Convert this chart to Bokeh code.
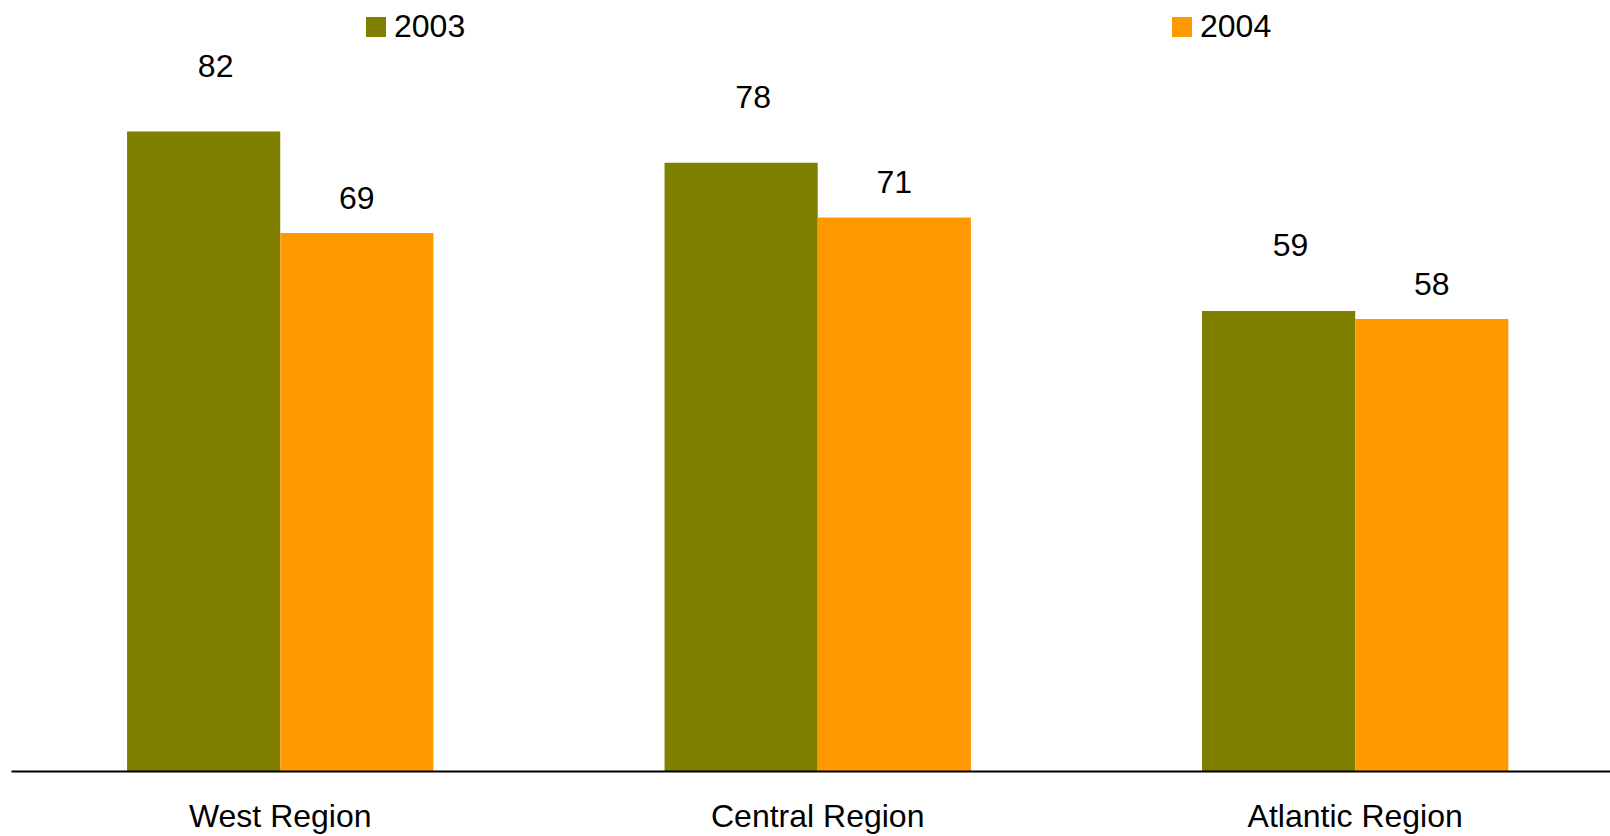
from bokeh.plotting import figure
from bokeh.models import Range1d, FixedTicker, ColumnDataSource, Legend, LegendItem
from bokeh.core.properties import value
from bokeh.embed import file_html
from bokeh.resources import INLINE

regions = ["West Region", "Central Region", "Atlantic Region"]
years = ["2003", "2004"]
values_2003 = [82, 78, 59]
values_2004 = [69, 71, 58]

FONT = "Liberation Sans"
colors = {"2003": "#808000", "2004": "#FF9900"}

p = figure(width=1610, height=836, output_backend="svg", toolbar_location=None,
           x_range=Range1d(-0.5, 2.475), y_range=Range1d(0, 98.8),
           min_border_left=11, min_border_right=0, min_border_top=0, min_border_bottom=65)

xs = list(range(len(regions)))
bw = 0.285
src03 = ColumnDataSource(dict(x=[i - bw / 2 for i in xs], top=values_2003,
                              lab=[str(v) for v in values_2003]))
src04 = ColumnDataSource(dict(x=[i + bw / 2 for i in xs], top=values_2004,
                              lab=[str(v) for v in values_2004]))

r03 = p.vbar(x="x", top="top", width=bw, bottom=0, source=src03,
             fill_color=colors["2003"], line_color=None)
r04 = p.vbar(x="x", top="top", width=bw, bottom=0, source=src04,
             fill_color=colors["2004"], line_color=None)

p.text(x="x", y="top", text="lab", source=src03, text_align="center",
       text_baseline="alphabetic", y_offset=-66, x_offset=12,
       text_font=value(FONT), text_font_size="32px", text_color="black")
p.text(x="x", y="top", text="lab", source=src04, text_align="center",
       text_baseline="alphabetic", y_offset=-35,
       text_font=value(FONT), text_font_size="32px", text_color="black")

legend = Legend(items=[LegendItem(label=years[0], renderers=[r03]),
                       LegendItem(label=years[1], renderers=[r04])],
                orientation="horizontal", location=(352, 726),
                padding=0, margin=0, spacing=703,
                glyph_width=25, glyph_height=25, label_height=25, label_width=72,
                label_standoff=6, label_text_font=FONT, label_text_font_size="32px",
                label_text_color="black", border_line_color=None,
                background_fill_alpha=0)
p.add_layout(legend)

p.yaxis.visible = False
p.xgrid.visible = False
p.ygrid.visible = False
p.outline_line_color = None

xa = p.xaxis[0]
xa.ticker = FixedTicker(ticks=xs)
xa.major_label_overrides = {i: r for i, r in zip(xs, regions)}
xa.major_tick_line_color = None
xa.minor_tick_line_color = None
xa.major_tick_out = 0
xa.major_tick_in = 0
xa.axis_line_color = "black"
xa.axis_line_width = 2
xa.major_label_standoff = 26
xa.major_label_text_font = FONT
xa.major_label_text_font_size = "32px"
xa.major_label_text_color = "black"

open("out.html", "w").write(file_html(p, INLINE))
